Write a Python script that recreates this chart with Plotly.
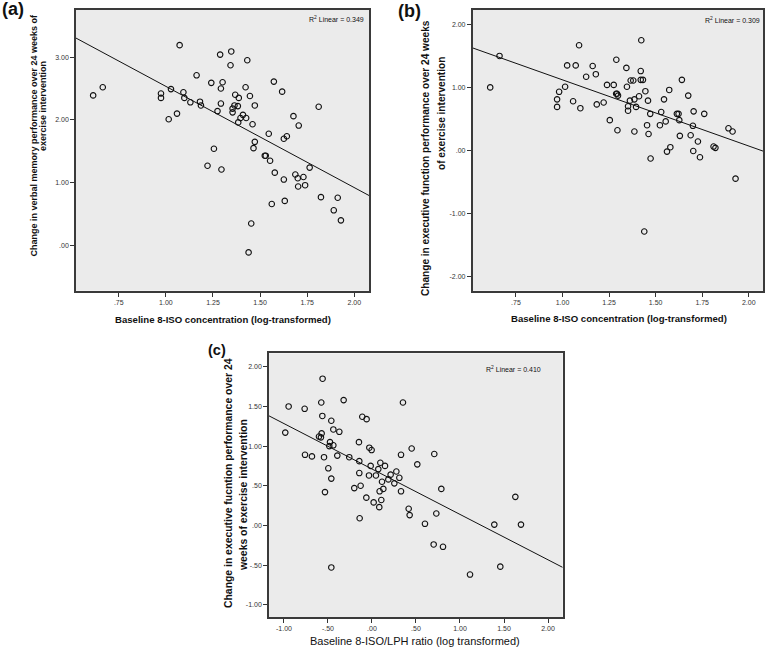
import numpy as np
import plotly.graph_objects as go

# ---------------- data ----------------
# Panel (a): baseline 8-ISO (log) vs change in verbal memory
a_x = [0.614, 0.665, 0.974, 0.974, 1.027, 1.015, 1.059, 1.073, 1.093, 1.098,
       1.130, 1.163, 1.181, 1.186, 1.221, 1.241, 1.255, 1.274, 1.288, 1.292,
       1.292, 1.295, 1.301, 1.343, 1.347, 1.354, 1.354, 1.364, 1.368, 1.382,
       1.387, 1.384, 1.396, 1.409, 1.423, 1.426, 1.432, 1.446, 1.460, 1.472,
       1.465, 1.472, 1.453, 1.439, 1.525, 1.530, 1.546, 1.553, 1.562, 1.573,
       1.578, 1.617, 1.626, 1.642, 1.626, 1.631, 1.677, 1.687, 1.700, 1.705,
       1.702, 1.730, 1.739, 1.763, 1.811, 1.823, 1.891, 1.912, 1.929]
a_y = [2.39, 2.52, 2.42, 2.35, 2.49, 2.01, 2.10, 3.19, 2.44, 2.35,
       2.28, 2.71, 2.29, 2.23, 1.27, 2.59, 1.54, 2.14, 3.04, 2.50,
       2.26, 1.21, 2.60, 2.87, 3.09, 2.18, 2.12, 2.23, 2.40, 2.22,
       2.35, 1.96, 2.03, 2.08, 2.52, 2.03, 2.95, 2.38, 1.93, 2.23,
       1.55, 1.65, 0.35, -0.11, 1.43, 1.43, 1.78, 1.35, 0.66, 2.61,
       1.16, 2.45, 1.70, 1.74, 1.05, 0.71, 2.06, 1.13, 1.07, 1.91,
       0.94, 1.09, 0.96, 1.24, 2.21, 0.77, 0.56, 0.76, 0.40]

# Panel (b): baseline 8-ISO (log) vs change in executive function
b_x = [0.612, 0.662, 0.971, 0.971, 0.982, 1.014, 1.025, 1.057, 1.071, 1.089,
       1.096, 1.127, 1.162, 1.179, 1.184, 1.221, 1.239, 1.254, 1.275, 1.289,
       1.288, 1.293, 1.298, 1.295, 1.343, 1.346, 1.352, 1.352, 1.362, 1.366,
       1.380, 1.386, 1.386, 1.395, 1.411, 1.420, 1.420, 1.432, 1.423, 1.445,
       1.454, 1.459, 1.462, 1.471, 1.473, 1.439, 1.523, 1.530, 1.545, 1.554,
       1.561, 1.573, 1.579, 1.614, 1.623, 1.627, 1.630, 1.641, 1.675, 1.688,
       1.700, 1.704, 1.702, 1.727, 1.738, 1.761, 1.811, 1.821, 1.891, 1.913,
       1.929]
b_y = [1.00, 1.50, 0.81, 0.69, 0.93, 1.01, 1.35, 0.78, 1.35, 1.67,
       0.67, 1.17, 1.34, 1.21, 0.73, 0.76, 1.04, 0.48, 1.04, 1.44,
       0.90, 0.90, 0.87, 0.32, 1.31, 1.01, 0.70, 0.63, 0.79, 1.11,
       1.11, 0.81, 0.30, 0.69, 0.86, 1.26, 1.12, 1.12, 1.75, 0.94,
       0.40, 0.79, 0.26, 0.58, -0.13, -1.29, 0.40, 0.61, 0.81, 0.46,
       -0.02, 0.96, 0.05, 0.58, 0.58, 0.48, 0.23, 1.12, 0.87, 0.24,
       0.39, 0.62, -0.01, 0.14, -0.11, 0.58, 0.06, 0.04, 0.35, 0.30,
       -0.45]

# Panel (c): baseline 8-ISO/LPH ratio (log) vs change in executive function
c_x = [-0.985, -0.947, -0.765, -0.761, -0.682, -0.602, -0.580, -0.572, -0.576, -0.561,
       -0.564, -0.545, -0.534, -0.496, -0.477, -0.485, -0.462, -0.462, -0.462, -0.439,
       -0.439, -0.394, -0.371, -0.322, -0.258, -0.201, -0.148, -0.144, -0.144, -0.140,
       -0.129, -0.110, -0.061, -0.064, -0.030, -0.034, -0.015, -0.004, 0.019, 0.045,
       0.072, 0.083, 0.087, 0.095, 0.106, 0.114, 0.129, 0.148, 0.186, 0.212,
       0.254, 0.277, 0.311, 0.330, 0.330, 0.352, 0.417, 0.428, 0.451, 0.515,
       0.602, 0.701, 0.708, 0.731, 0.788, 0.807, 1.114, 1.390, 1.458, 1.629,
       1.693]
c_y = [1.17, 1.50, 1.47, 0.89, 0.87, 1.12, 1.11, 1.16, 1.55, 1.85,
       1.38, 0.86, 0.42, 0.72, 1.05, 1.00, 1.32, 0.59, -0.53, 1.01,
       1.21, 0.88, 1.18, 1.58, 0.86, 0.47, 1.05, 0.81, 0.66, 0.09,
       0.50, 1.37, 1.34, 0.35, 0.98, 0.63, 0.75, 0.95, 0.29, 0.63,
       0.71, 0.23, 0.43, 0.79, 0.32, 0.55, 0.46, 0.75, 0.58, 0.64,
       0.53, 0.68, 0.60, 0.43, 0.89, 1.55, 0.21, 0.13, 0.97, 0.77,
       0.02, -0.24, 0.90, 0.15, 0.46, -0.27, -0.62, 0.01, -0.52, 0.36,
       0.01]

# tick values / labels
ab_xticks = [0.75, 1.00, 1.25, 1.50, 1.75, 2.00]
ab_xtext = [".75", "1.00", "1.25", "1.50", "1.75", "2.00"]
a_yticks = [0, 1, 2, 3]
a_ytext = [".00", "1.00", "2.00", "3.00"]
b_yticks = [-2, -1, 0, 1, 2]
b_ytext = ["-2.00", "-1.00", ".00", "1.00", "2.00"]
c_xticks = [-1.0, -0.5, 0.0, 0.5, 1.0, 1.5, 2.0]
c_xtext = ["-1.00", "-.50", ".00", ".50", "1.00", "1.50", "2.00"]
c_yticks = [-1.0, -0.5, 0.0, 0.5, 1.0, 1.5, 2.0]
c_ytext = ["-1.00", "-.50", ".00", ".50", "1.00", "1.50", "2.00"]

r2_labels = ["0.349", "0.309", "0.410"]

# ---------------- figure ----------------
W, H = 765, 648
FONT = "Liberation Sans, Arial, sans-serif"
a_xr, a_yr = [0.523, 2.078], [-0.72, 3.75]
b_xr, b_yr = [0.518, 2.078], [-2.23, 2.23]
c_xr, c_yr = [-1.17, 2.167], [-1.155, 2.17]

fig = go.Figure()
panels = [
    (a_x, a_y, a_xr, "x", "y"),
    (b_x, b_y, b_xr, "x2", "y2"),
    (c_x, c_y, c_xr, "x3", "y3"),
]
for xs, ys, xr, xa, ya in panels:
    fig.add_trace(go.Scatter(
        x=xs, y=ys, mode="markers", xaxis=xa, yaxis=ya, showlegend=False,
        marker=dict(symbol="circle-open", size=5.5, color="#111",
                    line=dict(width=1.1, color="#111"))))
    m, c = np.polyfit(np.array(xs), np.array(ys), 1)
    fig.add_trace(go.Scatter(
        x=xr, y=[m * xr[0] + c, m * xr[1] + c], mode="lines", xaxis=xa, yaxis=ya,
        showlegend=False, line=dict(color="#111", width=1)))


def ax(domain, rng, tv, tt, anchor):
    return dict(domain=domain, range=rng, tickvals=tv, ticktext=tt, anchor=anchor,
                showline=True, mirror=True, linecolor="#3a3a3a", linewidth=1.6,
                ticks="outside", ticklen=4, tickcolor="#333", tickwidth=1,
                showgrid=False, zeroline=False,
                tickfont=dict(family=FONT, size=7, color="#333"))


def px_x(p):
    return p / W


def px_y(p):
    return 1 - p / H


fig.update_layout(
    width=W, height=H, margin=dict(l=0, r=0, t=0, b=0),
    paper_bgcolor="white", plot_bgcolor="#ebebeb",
    xaxis=ax([px_x(76), px_x(369)], a_xr, ab_xticks, ab_xtext, "y"),
    yaxis=ax([px_y(290.7), px_y(10)], a_yr, a_yticks, a_ytext, "x"),
    xaxis2=ax([px_x(472.7), px_x(763.3)], b_xr, ab_xticks, ab_xtext, "y2"),
    yaxis2=ax([px_y(290.7), px_y(10)], b_yr, b_yticks, b_ytext, "x2"),
    xaxis3=ax([px_x(269), px_x(562.7)], c_xr, c_xticks, c_xtext, "y3"),
    yaxis3=ax([px_y(617), px_y(353.3)], c_yr, c_yticks, c_ytext, "x3"),
)

ann = []


def text(x, y, t, size, bold=True, angle=0, xanchor="center", yanchor="middle"):
    ann.append(dict(x=px_x(x), y=px_y(y), xref="paper", yref="paper",
                    text=("<b>" + t + "</b>") if bold else t,
                    showarrow=False, textangle=angle, xanchor=xanchor, yanchor=yanchor,
                    font=dict(family=FONT, size=size, color="#111")))


# panel labels
text(0, 9, "(a)", 18, xanchor="left")
text(396, 11, "(b)", 18, xanchor="left")
text(206, 350, "(c)", 14.5, xanchor="left")

# x-axis titles
text(223, 319, "Baseline 8-ISO concentration (log-transformed)", 9.6)
text(619, 318, "Baseline 8-ISO concentration (log-transformed)", 9.6)
text(415, 641, "Baseline 8-ISO/LPH ratio (log transformed)", 11, bold=False)

# y-axis titles
text(33.5, 135, "Change in verbal memory performance over 24 weeks of", 9, angle=-90)
text(43, 106, "exercise intervention", 9, angle=-90)
text(426, 158, "Change in executive function performance over 24 weeks", 10.1, angle=-90)
text(441, 113, "of exercise intervention", 10.1, angle=-90)
text(228, 483, "Change in executive fucntion performance over 24", 10.4, angle=-90)
text(244, 495, "weeks of exercise intervention", 10.4, angle=-90)

# R^2 labels
for (xr_, yr_, lab) in [(366, 19, r2_labels[0]), (762, 20.5, r2_labels[1]), (543, 369, r2_labels[2])]:
    ann.append(dict(x=px_x(xr_), y=px_y(yr_), xref="paper", yref="paper",
                    text="R<sup>2</sup> Linear = " + lab, showarrow=False,
                    xanchor="right", yanchor="middle",
                    font=dict(family=FONT, size=7, color="#111")))

fig.update_layout(annotations=ann)
fig.write_html("out.html", config={"displayModeBar": False},
               post_script="document.body.style.margin='0';")
